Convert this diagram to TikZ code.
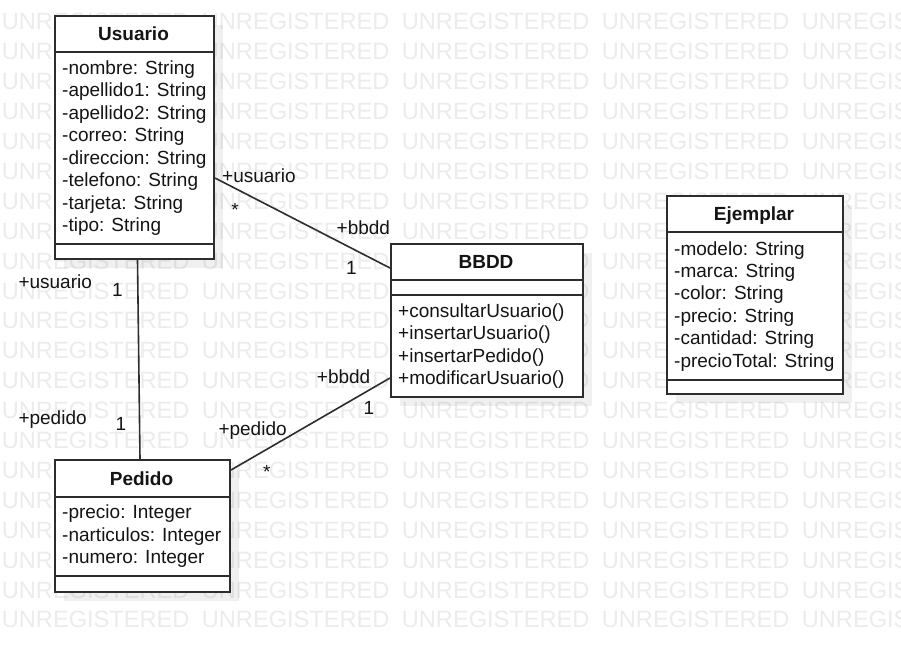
\documentclass[tikz,border=0pt]{standalone}
\usepackage{fontspec}
\setmainfont{Liberation Sans}
\definecolor{wm}{RGB}{236,236,236}
\definecolor{ln}{RGB}{45,45,45}
\definecolor{tx}{RGB}{20,20,20}
\tikzset{
 classbox/.style={draw=ln, line width=2pt, fill=white, inner sep=0pt, anchor=north west},
 shadowbox/.style={fill=black, fill opacity=0.06, inner sep=0pt, anchor=north west},
 divider/.style={draw=ln, line width=2pt},
 attr/.style={anchor=base west, inner sep=0pt, text=tx, font=\fontsize{19}{22}\selectfont},
 ctitle/.style={anchor=base, inner sep=0pt, text=tx, font=\fontsize{19}{22}\selectfont\bfseries},
 role/.style={anchor=base west, inner sep=0pt, text=tx, font=\fontsize{19}{22}\selectfont},
 mult/.style={anchor=base, inner sep=0pt, text=tx, font=\fontsize{19}{22}\selectfont},
 assoc/.style={draw=ln, line width=1.6pt},
 wmark/.style={anchor=base west, inner sep=0pt, text=wm, font=\fontsize{23.6}{24}\selectfont},
}
\begin{document}
\begin{tikzpicture}[x=1pt,y=-1pt]
\clip (0,0) rectangle (901,651);
\fill[white] (0,0) rectangle (901,651);
% watermark
\foreach \r in {0,...,20}{
  \foreach \c in {0,...,4}{
    \node[wmark] (w\r-\c) at ({1.7+200*\c},{29.9+29.9*\r}) {UNREGISTERED};
  }
}
% ---------- Usuario
\node[shadowbox, minimum width=159pt, minimum height=243pt] (usuarioS) at (64,25) {};
\node[classbox, minimum width=159pt, minimum height=243pt] (usuario) at (54,15) {};
\draw[divider] (usuario.west |- 0,52) -- (usuario.east |- 0,52);
\draw[divider] (usuario.west |- 0,244) -- (usuario.east |- 0,244);
\node[ctitle] (usuarioT) at (133.5,40) {Usuario};
\foreach \t [count=\i from 0] in {-nombre: String,-apellido1: String,-apellido2: String,-correo: String,-direccion: String,-telefono: String,-tarjeta: String,-tipo: String}{
  \node[attr] (ua\i) at (62,{74+22.5*\i}) {\t};
}
% ---------- BBDD
\node[shadowbox, minimum width=192pt, minimum height=153pt] (bbddS) at (400,253) {};
\node[classbox, minimum width=192pt, minimum height=153pt] (bbdd) at (390,243) {};
\draw[divider] (bbdd.west |- 0,280) -- (bbdd.east |- 0,280);
\draw[divider] (bbdd.west |- 0,295) -- (bbdd.east |- 0,295);
\node[ctitle] (bbddT) at (486,268) {BBDD};
\foreach \t [count=\i from 0] in {+consultarUsuario(),+insertarUsuario(),+insertarPedido(),+modificarUsuario()}{
  \node[attr] (bm\i) at (398,{317+22.5*\i}) {\t};
}
% ---------- Pedido
\node[shadowbox, minimum width=175pt, minimum height=132pt] (pedidoS) at (64,469) {};
\node[classbox, minimum width=175pt, minimum height=132pt] (pedido) at (54,459) {};
\draw[divider] (pedido.west |- 0,497) -- (pedido.east |- 0,497);
\draw[divider] (pedido.west |- 0,576) -- (pedido.east |- 0,576);
\node[ctitle] (pedidoT) at (141.5,485) {Pedido};
\foreach \t [count=\i from 0] in {-precio: Integer,-narticulos: Integer,-numero: Integer}{
  \node[attr] (pa\i) at (62,{518.5+22.5*\i}) {\t};
}
% ---------- Ejemplar
\node[shadowbox, minimum width=176pt, minimum height=198pt] (ejemplarS) at (676,205) {};
\node[classbox, minimum width=176pt, minimum height=198pt] (ejemplar) at (666,195) {};
\draw[divider] (ejemplar.west |- 0,232) -- (ejemplar.east |- 0,232);
\draw[divider] (ejemplar.west |- 0,380) -- (ejemplar.east |- 0,380);
\node[ctitle] (ejemplarT) at (754,220) {Ejemplar};
\foreach \t [count=\i from 0] in {-modelo: String,-marca: String,-color: String,-precio: String,-cantidad: String,-precioTotal: String}{
  \node[attr] (ea\i) at (674,{255+22.4*\i}) {\t};
}
% ---------- connectors
\draw[assoc] ([yshift=-163pt]usuario.north east) -- ([yshift=-25pt]bbdd.north west);
\draw[assoc] ([xshift=3pt]usuario.south) -- ([xshift=-2.5pt]pedido.north);
\draw[assoc] ([yshift=-11pt]pedido.north east) -- ([yshift=-135pt]bbdd.north west);
% ---------- labels
\node[role] (l1) at (222,182) {+usuario};
\node[mult] (l2) at (235,216) {*};
\node[role] (l3) at (336.5,234) {+bbdd};
\node[mult] (l4) at (351.3,274.5) {1};
\node[role] (l5) at (18.3,288.5) {+usuario};
\node[mult] (l6) at (117.5,296) {1};
\node[role] (l7) at (18.3,424) {+pedido};
\node[mult] (l8) at (121,430) {1};
\node[role] (l9) at (218.3,435.5) {+pedido};
\node[mult] (l10) at (266.7,478) {*};
\node[role] (l11) at (316.7,383) {+bbdd};
\node[mult] (l12) at (369,414) {1};
\end{tikzpicture}
\end{document}
